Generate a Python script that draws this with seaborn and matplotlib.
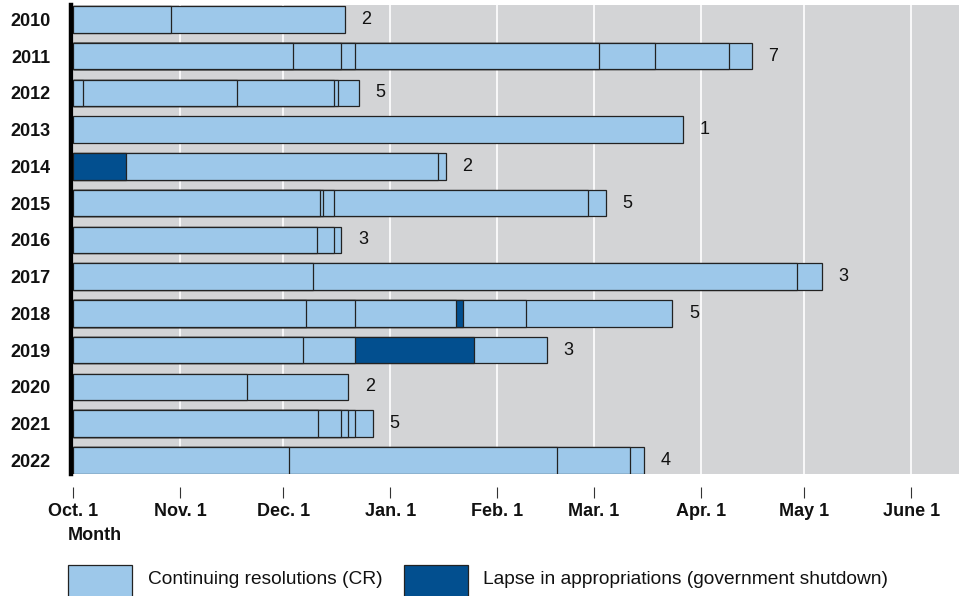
import numpy as np
import pandas as pd
import seaborn as sns
import matplotlib.pyplot as plt
from matplotlib.patches import Rectangle
from matplotlib.transforms import blended_transform_factory

sns.set_theme(style='white')
plt.rcParams['font.family'] = ['Liberation Sans', 'DejaVu Sans']

# fiscal years, top to bottom
years = ['2010', '2011', '2012', '2013', '2014', '2015', '2016',
         '2017', '2018', '2019', '2020', '2021', '2022']
# number of CRs shown at the end of each bar
cr_counts = [2, 7, 5, 1, 2, 5, 3, 3, 5, 3, 2, 5, 4]
# end of each segment, days after Oct. 1
seg_ends = [
    [28.4, 78.8],
    [63.7, 77.7, 81.7, 152.5, 168.6, 190.1, 196.7],
    [3.0, 47.4, 75.7, 76.7, 82.8],
    [176.7],
    [15.3, 105.9, 108.0],
    [71.7, 72.6, 75.7, 149.4, 154.4],
    [70.6, 75.7, 77.8],
    [69.7, 209.9, 217.0],
    [67.6, 81.8, 111.0, 113.1, 131.2, 173.7],
    [66.6, 81.8, 116.1, 137.3],
    [50.5, 79.8],
    [70.9, 77.7, 79.8, 81.8, 86.9],
    [62.6, 140.4, 161.5, 165.6],
]
# segment type: CR = continuing resolution, Lapse = shutdown
seg_kinds = [
    ['CR'] * 2,
    ['CR'] * 7,
    ['CR'] * 5,
    ['CR'],
    ['Lapse', 'CR', 'CR'],
    ['CR'] * 5,
    ['CR'] * 3,
    ['CR'] * 3,
    ['CR', 'CR', 'CR', 'Lapse', 'CR', 'CR'],
    ['CR', 'CR', 'Lapse', 'CR'],
    ['CR'] * 2,
    ['CR'] * 5,
    ['CR'] * 4,
]
month_days = [0, 31, 61, 92, 123, 151, 182, 212, 243]
month_labels = ['Oct. 1', 'Nov. 1', 'Dec. 1', 'Jan. 1', 'Feb. 1',
                'Mar. 1', 'Apr. 1', 'May 1', 'June 1']

light = '#9dc8ea'
dark = '#024f8f'
edge = '#222222'
pal = {'CR': light, 'Lapse': dark}

# each segment becomes a bar from 0 to its end; longest drawn first
rows = []
for yr, ends, kinds in zip(years, seg_ends, seg_kinds):
    n = len(ends)
    for i, (e, k) in enumerate(zip(ends, kinds)):
        rows.append({'year': yr, 'end': e, 'kind': k, 'layer': n - 1 - i})
df = pd.DataFrame(rows)

W, H = 959, 596
fig = plt.figure(figsize=(W / 100, H / 100), dpi=100)
ax = fig.add_axes([71 / W, 1 - 474 / H, (W - 71) / W, (474 - 5) / H])
ax.set_facecolor('#d3d4d6')

for layer in sorted(df['layer'].unique()):
    sub = df[df['layer'] == layer]
    sns.barplot(data=sub, x='end', y='year', hue='kind', hue_order=['CR', 'Lapse'],
                palette=pal, order=years, dodge=False, width=0.72,
                edgecolor=edge, linewidth=0.9, errorbar=None, legend=False,
                saturation=1, ax=ax)

for i, (ends, c) in enumerate(zip(seg_ends, cr_counts)):
    ax.annotate(str(c), (ends[-1], i), xytext=(12, 0), textcoords='offset points',
                va='center', ha='left', fontsize=13, color='#111111')

ax.set_xlim(-0.58, 256.8)
ax.set_ylim(12.37, -0.39)
ax.set_xticks(month_days)
ax.set_xticklabels(month_labels, fontsize=13, fontweight='bold')
ax.set_yticks(range(len(years)))
ax.set_yticklabels(years, fontsize=13, fontweight='bold')
ax.tick_params(axis='both', length=0, colors='#111111')
ax.tick_params(axis='x', pad=21)
ax.tick_params(axis='y', pad=14.5)
ax.set_xlabel('')
ax.set_ylabel('')
ax.set_axisbelow(True)
ax.grid(axis='x', color='white', linewidth=1.2)
ax.grid(axis='y', visible=False)
for s in ['top', 'right', 'bottom']:
    ax.spines[s].set_visible(False)
ax.spines['left'].set_color('black')
ax.spines['left'].set_linewidth(3.2)

# small tick marks sitting below the plot area
trans = blended_transform_factory(ax.transData, ax.transAxes)
ax.vlines(month_days, -0.027, -0.051, transform=trans, color='#333333',
          linewidth=0.8, clip_on=False)

fig.text(68 / W, 1 - 535 / H, 'Month', fontsize=13, fontweight='bold',
         ha='left', va='center', color='#111111')

# legend
fig.add_artist(Rectangle((68 / W, 1 - 598 / H), 64 / W, 33 / H, transform=fig.transFigure,
                         facecolor=light, edgecolor=edge, linewidth=0.9))
fig.text(148 / W, 1 - 580 / H, 'Continuing resolutions (CR)', fontsize=13.8,
         ha='left', va='center', color='#111111')
fig.add_artist(Rectangle((404 / W, 1 - 598 / H), 64 / W, 33 / H, transform=fig.transFigure,
                         facecolor=dark, edgecolor=edge, linewidth=0.9))
fig.text(483 / W, 1 - 580 / H, 'Lapse in appropriations (government shutdown)',
         fontsize=13.8, ha='left', va='center', color='#111111')

fig.savefig('out.png', dpi=100)
